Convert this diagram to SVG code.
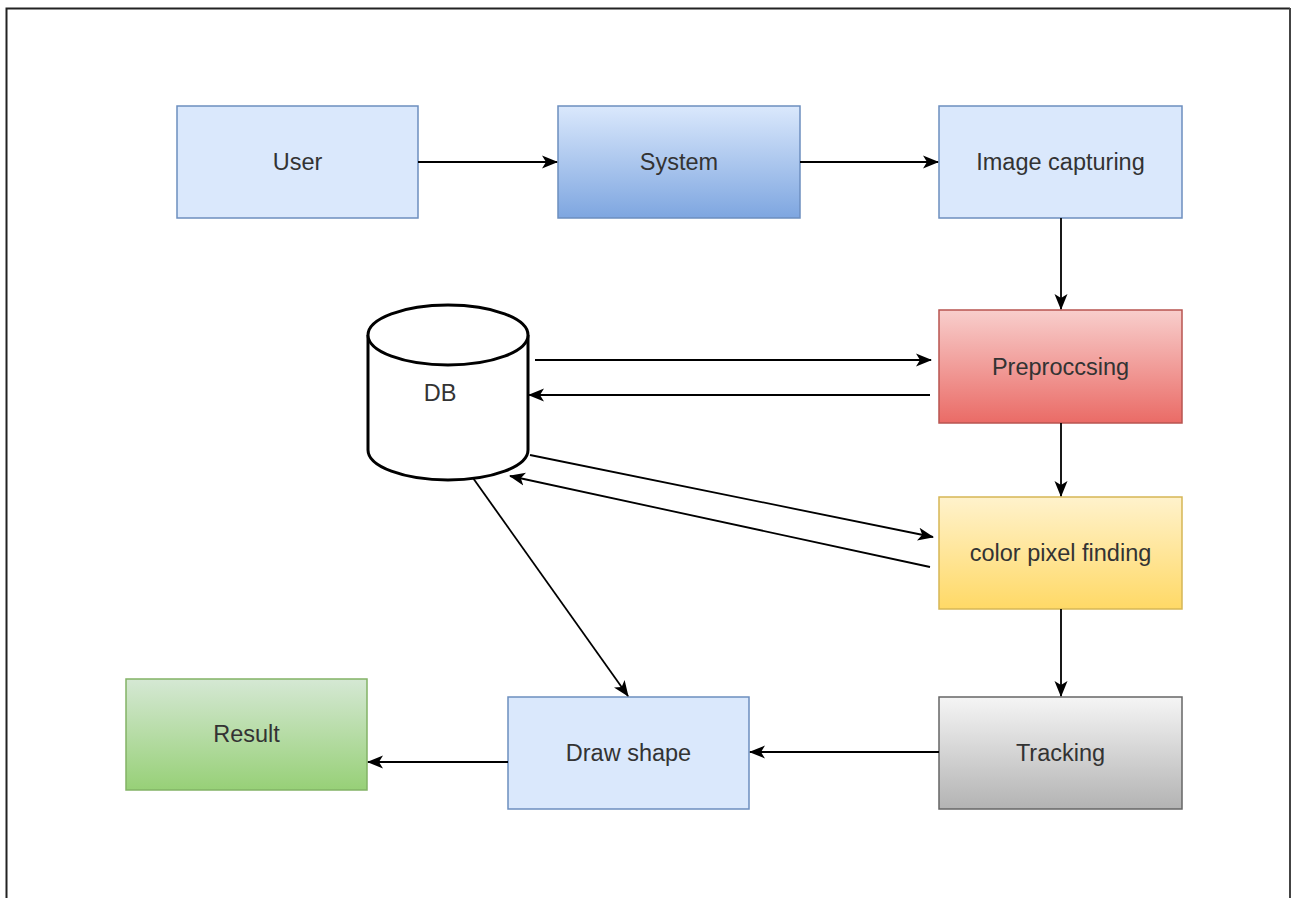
<svg xmlns="http://www.w3.org/2000/svg" width="1292" height="898" viewBox="0 0 1292 898">
<style>
.box{stroke:#6c8ebf;stroke-width:1.5}
.lbl{font-family:"Liberation Sans",Arial,sans-serif;font-size:23.5px;fill:#333;text-anchor:middle;dominant-baseline:central}
.con{stroke:#000;stroke-width:1.8;fill:none;marker-end:url(#arr)}
</style>
<defs>
<marker id="arr" markerWidth="18" markerHeight="16" refX="15" refY="8" orient="auto" markerUnits="userSpaceOnUse">
<path d="M0,1.5 L16,8 L0,14.5 L4,8 Z" fill="#000"/>
</marker>
<linearGradient id="gBlue" x1="0" y1="0" x2="0" y2="1"><stop offset="0" stop-color="#dae8fc"/><stop offset="1" stop-color="#7ea6e0"/></linearGradient>
<linearGradient id="gRed" x1="0" y1="0" x2="0" y2="1"><stop offset="0" stop-color="#f8cecc"/><stop offset="1" stop-color="#ea6b66"/></linearGradient>
<linearGradient id="gYel" x1="0" y1="0" x2="0" y2="1"><stop offset="0" stop-color="#fff2cc"/><stop offset="1" stop-color="#ffd966"/></linearGradient>
<linearGradient id="gGray" x1="0" y1="0" x2="0" y2="1"><stop offset="0" stop-color="#f5f5f5"/><stop offset="1" stop-color="#b3b3b3"/></linearGradient>
<linearGradient id="gGreen" x1="0" y1="0" x2="0" y2="1"><stop offset="0" stop-color="#d5e8d4"/><stop offset="1" stop-color="#97d077"/></linearGradient>
</defs>
<rect width="1292" height="898" fill="#fff"/>
<path d="M6.5,898 V8.5 H1290" fill="none" stroke="#222" stroke-width="2"/>
<line x1="1290" y1="8" x2="1290" y2="898" stroke="#444" stroke-width="2"/>
<g id="user"><rect x="177" y="106" width="241" height="112" fill="#dae8fc" class="box"/><text x="297.5" y="162" class="lbl">User</text></g>
<g id="system"><rect x="558" y="106" width="242" height="112" fill="url(#gBlue)" class="box"/><text x="679" y="162" class="lbl">System</text></g>
<g id="image"><rect x="939" y="106" width="243" height="112" fill="#dae8fc" class="box"/><text x="1060.5" y="162" class="lbl">Image capturing</text></g>
<g id="pre"><rect x="939" y="310" width="243" height="113" fill="url(#gRed)" stroke="#b85450" stroke-width="1.5"/><text x="1060.5" y="367" class="lbl">Preproccsing</text></g>
<g id="color"><rect x="939" y="497" width="243" height="112" fill="url(#gYel)" stroke="#d6b656" stroke-width="1.5"/><text x="1060.5" y="553" class="lbl">color pixel finding</text></g>
<g id="tracking"><rect x="939" y="697" width="243" height="112" fill="url(#gGray)" stroke="#666" stroke-width="1.5"/><text x="1060.5" y="753" class="lbl">Tracking</text></g>
<g id="draw"><rect x="508" y="697" width="241" height="112" fill="#dae8fc" class="box"/><text x="628.5" y="753" class="lbl">Draw shape</text></g>
<g id="result"><rect x="126" y="679" width="241" height="111" fill="url(#gGreen)" stroke="#82b366" stroke-width="1.5"/><text x="246.5" y="734" class="lbl">Result</text></g>
<g id="db">
<path d="M368,335 V450 A80,30 0 0 0 528,450 V335" fill="#fff" stroke="#000" stroke-width="3"/>
<ellipse cx="448" cy="335" rx="80" ry="30" fill="#fff" stroke="#000" stroke-width="3"/>
<text x="440" y="393" class="lbl">DB</text>
</g>
<g id="connectors">
<line x1="418" y1="162" x2="557" y2="162" class="con"/>
<line x1="800" y1="162" x2="938" y2="162" class="con"/>
<line x1="1061" y1="218" x2="1061" y2="309" class="con"/>
<line x1="535" y1="360" x2="931" y2="360" class="con"/>
<line x1="930" y1="395" x2="529" y2="395" class="con"/>
<line x1="1061" y1="423" x2="1061" y2="496" class="con"/>
<line x1="530" y1="455" x2="933" y2="537" class="con"/>
<line x1="930" y1="567" x2="510" y2="476" class="con"/>
<line x1="473" y1="478" x2="628" y2="696" class="con"/>
<line x1="1061" y1="609" x2="1061" y2="696" class="con"/>
<line x1="939" y1="752" x2="750" y2="752" class="con"/>
<line x1="508" y1="762" x2="368" y2="762" class="con"/>
</g>
</svg>
